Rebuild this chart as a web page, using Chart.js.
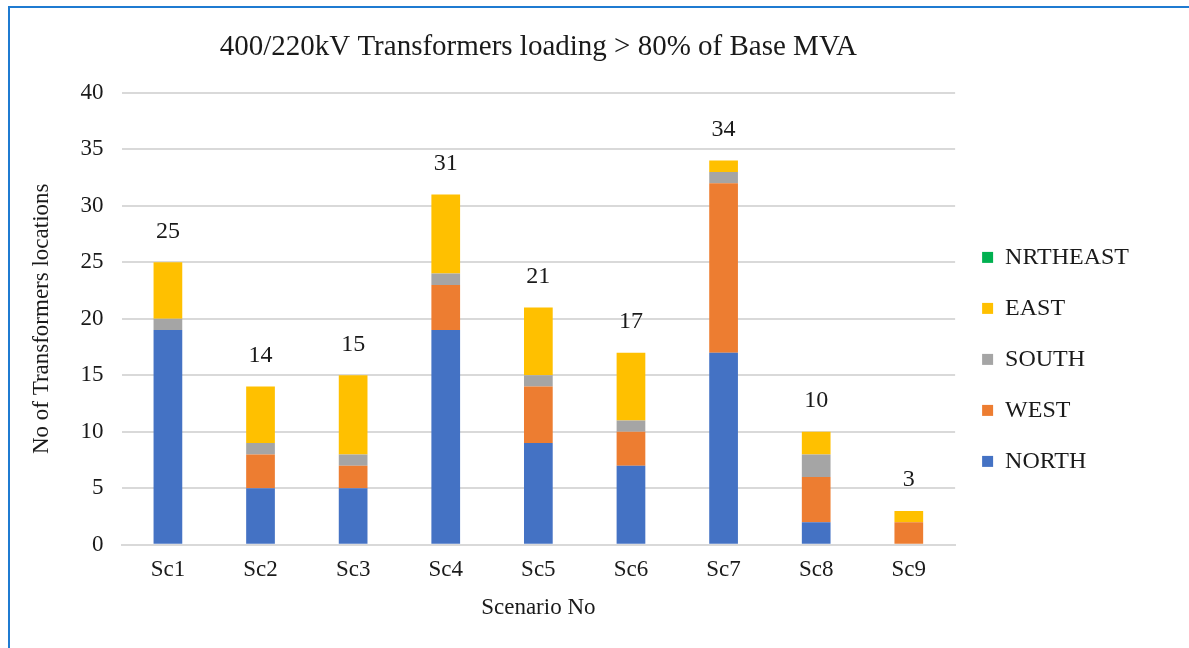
<!DOCTYPE html>
<html>
<head>
<meta charset="utf-8">
<script src="https://cdn.jsdelivr.net/npm/chart.js@4"></script>
<style>
  html, body { margin: 0; padding: 0; background: #fff; }
  #frame {
    position: absolute; left: 8px; top: 6px;
    width: 1181px; height: 642px;
    border-left: 2px solid #1f7bd1; border-top: 2px solid #1f7bd1;
  }
  #loadingChart { display: block; }
</style>
</head>
<body>
<div id="frame"><canvas id="loadingChart" width="1179" height="640"></canvas></div>
<script>
const scenarios = ["Sc1", "Sc2", "Sc3", "Sc4", "Sc5", "Sc6", "Sc7", "Sc8", "Sc9"];
const north    = [19, 5, 5, 19, 9, 7, 17, 2, 0];
const west     = [0, 3, 2, 4, 5, 3, 15, 4, 2];
const south    = [1, 1, 1, 1, 1, 1, 1, 2, 0];
const east     = [5, 5, 7, 7, 6, 6, 1, 2, 1];
const nrtheast = [0, 0, 0, 0, 0, 0, 0, 0, 0];

const serif = "'Liberation Serif', 'Times New Roman', serif";
const ink = "#1a1a1a";

// totals printed above each stack
const totalsPlugin = {
    id: "totals",
    afterDatasetsDraw(chart) {
        const ctx = chart.ctx;
        const xs = chart.scales.x, ys = chart.scales.y;
        ctx.save();
        ctx.font = "24px " + serif;
        ctx.fillStyle = ink;
        ctx.textAlign = "center";
        ctx.textBaseline = "middle";
        scenarios.forEach((s, i) => {
            const total = north[i] + west[i] + south[i] + east[i] + nrtheast[i];
            ctx.fillText(String(total), xs.getPixelForValue(i), ys.getPixelForValue(total) - 31);
        });
        ctx.restore();
    }
};

const ctx = document.getElementById("loadingChart").getContext("2d");
new Chart(ctx, {
    type: "bar",
    data: {
        labels: scenarios,
        datasets: [
            { label: "NORTH", data: north, backgroundColor: "#4472c4" },
            { label: "WEST", data: west, backgroundColor: "#ed7d31" },
            { label: "SOUTH", data: south, backgroundColor: "#a5a5a5" },
            { label: "EAST", data: east, backgroundColor: "#ffc000" },
            { label: "NRTHEAST", data: nrtheast, backgroundColor: "#00b050" },
        ],
    },
    options: {
        responsive: false,
        animation: false,
        categoryPercentage: 1,
        barPercentage: 0.31,
        layout: { padding: { left: 10, right: 50, top: 0, bottom: 0 } },
        plugins: {
            title: {
                display: true,
                text: "400/220kV Transformers loading > 80% of Base MVA",
                color: ink,
                font: { family: serif, size: 29, weight: "normal" },
                padding: { top: 22, bottom: 28 },
                fullSize: false,
            },
            legend: {
                display: true,
                position: "right",
                align: "start",
                reverse: true,
                title: { display: true, text: " ", padding: { top: 98, bottom: 98 } },
                labels: {
                    color: ink,
                    font: { family: serif, size: 24 },
                    boxWidth: 11,
                    boxHeight: 11,
                    padding: 27,
                },
            },
            tooltip: { enabled: false },
        },
        scales: {
            x: {
                stacked: true,
                grid: { display: false, drawTicks: false },
                border: { display: true, color: "#d9d9d9", width: 2 },
                ticks: { color: ink, font: { family: serif, size: 23 }, padding: 11 },
                title: {
                    display: true,
                    text: "Scenario No",
                    color: ink,
                    font: { family: serif, size: 23 },
                    padding: { top: 0, bottom: 26 },
                },
            },
            y: {
                stacked: true,
                min: 0,
                max: 40,
                ticks: { stepSize: 5, color: ink, font: { family: serif, size: 23 }, padding: 18 },
                grid: { color: "#d9d9d9", lineWidth: 2, drawTicks: false },
                border: { display: false },
                title: {
                    display: true,
                    text: "No of Transformers locations",
                    color: ink,
                    font: { family: serif, size: 23 },
                    padding: { top: 8, bottom: 7 },
                },
            },
        },
    },
    plugins: [totalsPlugin],
});
</script>
</body>
</html>
